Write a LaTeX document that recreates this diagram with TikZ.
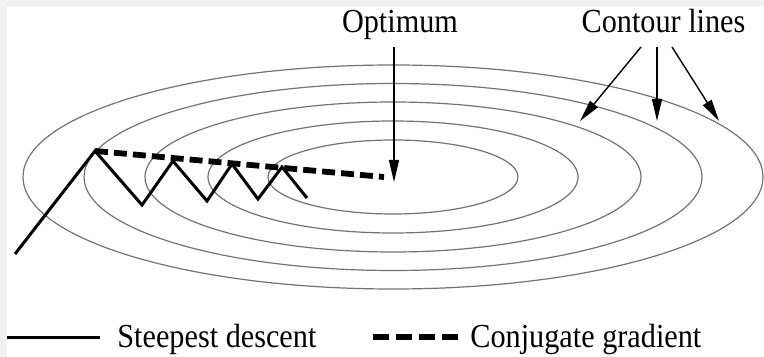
\documentclass[tikz,border=0pt]{standalone}
\usepackage{fontspec}
\setmainfont{Liberation Serif}
\newfontfamily\lblfont[FakeStretch=0.9]{Liberation Serif}
\usetikzlibrary{arrows.meta}
\definecolor{bandgray}{HTML}{F1F1F1}
\tikzset{
  contour/.style={draw=black!55, line width=0.6pt},
  pointer/.style={draw=black, line width=0.7pt, -{Triangle[length=11pt,width=5pt]}},
  steep/.style={draw=black, line width=1.5pt, line join=miter},
  conj/.style={draw=black, line width=2.9pt, dash pattern=on 6.5pt off 3pt},
  legconj/.style={draw=black, line width=2.6pt, dash pattern=on 8pt off 3.5pt},
  lbl/.style={inner sep=0pt, font=\lblfont\fontsize{16.8}{19}\selectfont}
}
\begin{document}
\begin{tikzpicture}[x=0.5pt,y=-0.5pt]
\useasboundingbox (0,0) rectangle (764,357);
\fill[white] (0,0) rectangle (764,357);
\fill[bandgray] (0,0) rectangle (764,7);
\fill[bandgray] (0,0) rectangle (7,357);
% contour ellipses
\coordinate (ctr) at (393,177);
\draw[contour] (ctr) ellipse [x radius=185pt, y radius=56pt];
\draw[contour] (ctr) ellipse [x radius=154.5pt, y radius=46.75pt];
\draw[contour] (ctr) ellipse [x radius=124pt, y radius=37.5pt];
\draw[contour] (ctr) ellipse [x radius=92.5pt, y radius=28pt];
\draw[contour] (ctr) ellipse [x radius=62.5pt, y radius=18.5pt];
% steepest descent zigzag
\coordinate (s0) at (15,254);
\coordinate (s1) at (95,151);
\coordinate (s2) at (142,205);
\coordinate (s3) at (173,161);
\coordinate (s4) at (207,201);
\coordinate (s5) at (232,164);
\coordinate (s6) at (258,199);
\coordinate (s7) at (282,167);
\coordinate (s8) at (307,198);
\draw[steep] (s0) -- (s1) -- (s2) -- (s3) -- (s4) -- (s5) -- (s6) -- (s7) -- (s8);
% conjugate gradient
\coordinate (cg) at (384,177);
\draw[conj] (s1) -- (cg);
% labels
\node[lbl, anchor=base] (opt) at (400,33) {Optimum};
\node[lbl, anchor=base] (cont) at (663.5,33) {Contour lines};
\coordinate (optpt) at (394,182);
\draw[pointer] (394,47) -- (optpt);
\coordinate (c1) at (580,121);
\coordinate (c2) at (657,121);
\coordinate (c3) at (719,121);
\draw[pointer] (641,47) -- (c1);
\draw[pointer] (657,47) -- (c2);
\draw[pointer] (672,47) -- (c3);
% legend
\coordinate (l1a) at (7,337);
\coordinate (l1b) at (100,337);
\draw[steep] (l1a) -- (l1b);
\node[lbl, anchor=base west] (lsd) at (117,347) {Steepest descent};
\coordinate (l2a) at (373,337);
\coordinate (l2b) at (462,337);
\draw[legconj] (l2a) -- (l2b);
\node[lbl, anchor=base west] (lcg) at (470,347) {Conjugate gradient};
\end{tikzpicture}
\end{document}
